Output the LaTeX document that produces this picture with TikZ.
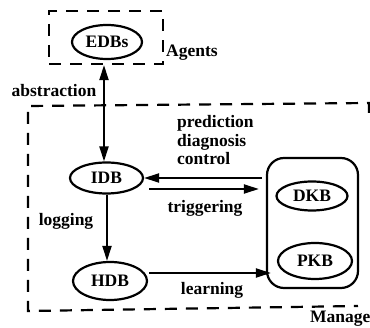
\documentclass[tikz,border=0pt]{standalone}
\usepackage{fontspec}
\setmainfont{Liberation Serif}
\usetikzlibrary{shapes.geometric,arrows.meta,calc}
\begin{document}
\begin{tikzpicture}[x=1pt,y=-1pt,
  font=\fontsize{17.5}{18.5}\selectfont\bfseries,
  db/.style={draw, ellipse, line width=2.2pt, inner sep=0pt},
  dbox/.style={draw, line width=2.2pt, dash pattern=on 12pt off 9pt},
  arr/.style={line width=2pt, -{Triangle[length=15pt,width=9pt]}},
  darr/.style={line width=2pt, {Triangle[length=15pt,width=9pt]}-{Triangle[length=15pt,width=9pt]}},
  lbl/.style={anchor=base, inner sep=0pt}]
\useasboundingbox (0,0) rectangle (370,328);
% agents box
\node[dbox, minimum width=114pt, minimum height=53pt, inner sep=0pt] (agbox) at (106,37.5) {};
\node[db, minimum width=70pt, minimum height=34pt] (edb) at (107,42) {EDBs};
\node[lbl, anchor=base west] (agents) at (166,57) {Agents};
% manager box (open on the right)
\draw[line width=2.2pt, dash pattern=on 12pt off 9pt] (369,113) -- (369,103) -- (28,106) -- (28,311) -- (358,306);
% nodes
\node[db, minimum width=73pt, minimum height=31pt] (idb) at (106.5,178) {IDB};
\node[db, minimum width=74pt, minimum height=38pt] (hdb) at (110,281) {HDB};
\node[draw, line width=2.2pt, rounded corners=17pt, minimum width=91pt, minimum height=130pt, inner sep=0pt] (kb) at (312.5,223) {};
\node[db, minimum width=71pt, minimum height=29pt] (dkb) at (312,196) {DKB};
\node[db, minimum width=74pt, minimum height=36pt] (pkb) at (315,261) {PKB};
% connectors
\coordinate (agbot) at (agbox.south -| 104,0);
\draw[darr] (agbot) -- (agbot |- idb.north);
\draw[arr] (idb.south -| 107,0) -- (hdb.north -| 107,0);
\draw[arr] ($(kb.west |- idb.east)+(-4,0)$) -- (idb.east);
\draw[arr] ($(idb.east)+(5,11)$) -- ($(kb.west |- idb.east)+(-7,11)$);
\draw[arr] ($(hdb.east)+(1,-8)$) -- ($(kb.west |- hdb.east)+(5,-8)$);
% labels
\node[lbl] (labs) at (54,97) {abstraction};
\node[lbl] (llog) at (66,226) {logging};
\node[anchor=base west, inner sep=0pt, align=left] (lpdc) at (177,165) {prediction\\diagnosis\\control};
\node[lbl] (ltrig) at (205,213) {triggering};
\node[lbl] (llearn) at (212,295) {learning};
\node[lbl, anchor=base west] (lman) at (310,323) {Manage};
\end{tikzpicture}
\end{document}
